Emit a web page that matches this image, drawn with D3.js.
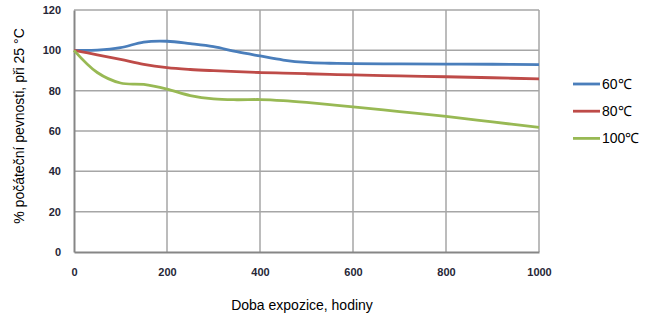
<!DOCTYPE html>
<html><head><meta charset="utf-8">
<script src="https://cdn.jsdelivr.net/npm/d3@7"></script>
<style>body{margin:0;background:#fff}svg{display:block}</style>
</head><body><svg id="c" width="654" height="320"></svg>
<script>
const hours = [0,50,100,150,200,250,300,350,400,450,500,550,600,700,800,900,1000];
const s60  = [100,100.1,101.3,104.1,104.5,103.3,101.8,99.3,97.2,95.2,94.0,93.6,93.4,93.3,93.2,93.1,92.9];
const s80  = [100,97.8,95.5,93.0,91.4,90.5,89.9,89.4,89.0,88.7,88.4,88.1,87.8,87.3,86.9,86.4,85.8];
const s100 = [100,89.0,83.8,83.1,80.8,77.6,75.9,75.5,75.6,75.1,74.2,73.1,72.0,69.6,67.2,64.5,61.8];
const seriesNames = ["60\u2103","80\u2103","100\u2103"];
const seriesColors = ["#4a7ebb","#be4b48","#98b954"];
const xTicks = [0,200,400,600,800,1000];
const yTicks = [0,20,40,60,80,100,120];

const svg = d3.select("#c");
const x = d3.scaleLinear().domain([0,1000]).range([74,539]);
const y = d3.scaleLinear().domain([0,120]).range([252,10]);

// grid
svg.append("g").selectAll("line").data(yTicks.slice(1)).join("line")
  .attr("x1",x(0)).attr("x2",x(1000)).attr("y1",d=>y(d)).attr("y2",d=>y(d))
  .attr("stroke","#a6a6a6").attr("stroke-width",1.5);
svg.append("g").selectAll("line").data(xTicks.slice(1)).join("line")
  .attr("y1",y(0)).attr("y2",y(120)).attr("x1",d=>x(d)).attr("x2",d=>x(d))
  .attr("stroke","#a6a6a6").attr("stroke-width",1.5);

// axes
const ya = svg.append("g").attr("transform",`translate(${x(0)},0)`)
  .call(d3.axisLeft(y).tickValues(yTicks).tickFormat(d3.format("d")).tickSize(0).tickPadding(13));
const xa = svg.append("g").attr("transform",`translate(0,${y(0)})`)
  .call(d3.axisBottom(x).tickValues(xTicks).tickFormat(d3.format("d")).tickSize(0).tickPadding(16));
[ya,xa].forEach(a=>{
  a.select(".domain").attr("stroke","#868686").attr("stroke-width",2);
  a.selectAll("text").attr("font-family","Liberation Sans, Arial, sans-serif")
   .attr("font-size",11).attr("font-weight","bold").attr("fill","#262636");
});

// lines
const data = [s60,s80,s100];
const line = d3.line().x((d,i)=>x(hours[i])).y(d=>y(d)).curve(d3.curveCatmullRom.alpha(0.5));
svg.append("g").selectAll("path").data(data).join("path")
  .attr("d",line).attr("fill","none")
  .attr("stroke",(d,i)=>seriesColors[i]).attr("stroke-width",2.8)
  .attr("stroke-linejoin","round");

// axis titles
svg.append("text").attr("transform","translate(24,126) rotate(-90)")
  .attr("text-anchor","middle").attr("font-family","Liberation Sans, Arial, sans-serif")
  .attr("font-size",14).attr("fill","#000").text("% počáteční pevnosti, při 25 °C");
svg.append("text").attr("x",302).attr("y",310)
  .attr("text-anchor","middle").attr("font-family","Liberation Sans, Arial, sans-serif")
  .attr("font-size",14).attr("fill","#000").text("Doba expozice, hodiny");

// legend
const lg = svg.append("g").selectAll("g").data(seriesNames).join("g")
  .attr("transform",(d,i)=>`translate(573,${84+i*27.2})`);
lg.append("line").attr("x1",0).attr("x2",27).attr("stroke",(d,i)=>seriesColors[i]).attr("stroke-width",2.8);
lg.append("text").attr("x",29).attr("dy","0.35em")
  .attr("font-family","Liberation Sans, Arial, sans-serif").attr("font-size",14)
  .attr("fill","#000").text(d=>d);
</script></body></html>
